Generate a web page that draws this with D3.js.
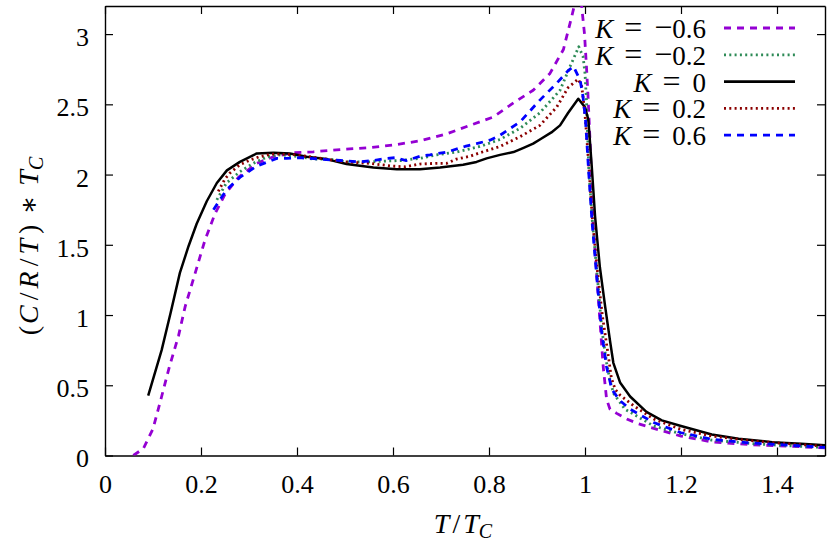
<!DOCTYPE html>
<html>
<head>
<meta charset="utf-8">
<title>C/R/T vs T/Tc</title>
<script src="https://cdnjs.cloudflare.com/ajax/libs/d3/7.8.5/d3.min.js"></script>
<style>
  body { margin: 0; background: #fff; }
  svg text { font-family: "Liberation Serif", "Times New Roman", serif; fill: #000; }
</style>
</head>
<body>
<div id="vis"></div>
<script>

// series: T/Tc and (C/R/T)*Tc
var kLabels = ["\u22120.6", "\u22120.2", "0", "0.2", "0.6"];

var tM06 = [0.059,0.080,0.100,0.118,0.134,0.153,0.167,0.188,0.208,0.229,0.250,0.278,0.316,0.351,0.392,0.434,0.490,0.545,0.600,0.656,0.712,0.760,0.809,0.851,0.892,0.927,0.955,0.972,0.986,0.993,0.999,1.003,1.006,1.011,1.017,1.028,1.038,1.045,1.052,1.066,1.087,1.108,1.136,1.200,1.264,1.341,1.426,1.500];
var cM06 = [0.00,0.05,0.19,0.42,0.63,0.85,1.06,1.30,1.53,1.72,1.86,1.98,2.08,2.127,2.155,2.162,2.178,2.19,2.21,2.24,2.29,2.35,2.41,2.51,2.60,2.72,2.89,3.12,3.32,3.20,3.00,2.77,2.58,2.20,1.65,1.11,0.63,0.40,0.33,0.30,0.26,0.23,0.20,0.138,0.097,0.078,0.066,0.054];

var tM02 = [0.233,0.253,0.281,0.309,0.337,0.365,0.400,0.434,0.469,0.503,0.545,0.587,0.615,0.656,0.690,0.732,0.781,0.823,0.865,0.906,0.948,0.969,0.987,0.996,1.000,1.003,1.008,1.015,1.025,1.035,1.045,1.053,1.060,1.083,1.101,1.143,1.200,1.264,1.354,1.430,1.500];
var cM02 = [1.82,1.94,2.02,2.08,2.125,2.14,2.13,2.11,2.11,2.09,2.09,2.096,2.10,2.115,2.14,2.16,2.20,2.25,2.33,2.44,2.60,2.77,2.91,2.84,2.72,2.53,2.03,1.68,1.30,0.90,0.66,0.52,0.44,0.33,0.295,0.21,0.155,0.11,0.083,0.068,0.057];

var tK0 = [0.090,0.118,0.137,0.156,0.174,0.191,0.212,0.233,0.254,0.281,0.316,0.351,0.385,0.420,0.461,0.503,0.559,0.608,0.656,0.698,0.746,0.774,0.795,0.823,0.851,0.872,0.892,0.906,0.930,0.948,0.965,0.986,1.000,1.007,1.014,1.021,1.031,1.042,1.052,1.059,1.073,1.094,1.128,1.160,1.200,1.264,1.320,1.390,1.450,1.500];
var cK0 = [0.426,0.75,1.02,1.30,1.49,1.65,1.81,1.94,2.03,2.09,2.15,2.155,2.15,2.127,2.11,2.075,2.05,2.037,2.037,2.05,2.07,2.09,2.115,2.14,2.16,2.19,2.22,2.25,2.30,2.35,2.44,2.54,2.48,2.39,2.06,1.70,1.34,1.06,0.82,0.66,0.52,0.42,0.31,0.25,0.21,0.15,0.12,0.095,0.083,0.073];

var tP02 = [0.236,0.250,0.260,0.281,0.300,0.320,0.345,0.370,0.400,0.430,0.460,0.500,0.550,0.600,0.625,0.656,0.690,0.712,0.732,0.760,0.781,0.823,0.865,0.906,0.941,0.965,0.986,0.993,0.996,1.001,1.008,1.015,1.025,1.036,1.049,1.055,1.063,1.073,1.101,1.143,1.200,1.264,1.334,1.397,1.500];
var cP02 = [1.88,1.97,2.01,2.07,2.10,2.125,2.145,2.145,2.14,2.125,2.11,2.09,2.08,2.06,2.055,2.075,2.08,2.08,2.11,2.13,2.155,2.20,2.27,2.35,2.48,2.62,2.68,2.63,2.55,2.39,2.06,1.70,1.34,1.00,0.70,0.55,0.47,0.43,0.355,0.26,0.186,0.138,0.11,0.09,0.066];

var tP06 = [0.226,0.253,0.281,0.316,0.358,0.378,0.406,0.448,0.490,0.531,0.559,0.587,0.604,0.628,0.656,0.677,0.712,0.750,0.774,0.802,0.823,0.865,0.906,0.941,0.965,0.976,0.990,0.996,1.001,1.008,1.015,1.025,1.035,1.045,1.056,1.073,1.094,1.143,1.200,1.264,1.341,1.426,1.500];
var cP06 = [1.75,1.89,1.98,2.06,2.115,2.115,2.12,2.11,2.10,2.09,2.10,2.115,2.12,2.10,2.13,2.14,2.16,2.20,2.22,2.245,2.28,2.376,2.53,2.65,2.74,2.77,2.67,2.55,2.39,2.00,1.65,1.25,0.87,0.63,0.47,0.39,0.33,0.235,0.162,0.115,0.09,0.073,0.058];

var xTicks = [0, 0.2, 0.4, 0.6, 0.8, 1, 1.2, 1.4];
var yTicks = [0, 0.5, 1, 1.5, 2, 2.5, 3];

var series = [
  {t: tM06, c: cM06, color: "#9400d3", dash: "7,6"},
  {t: tM02, c: cM02, color: "#2e8b57", dash: "2,3.3"},
  {t: tK0,  c: cK0,  color: "#000000", dash: null},
  {t: tP02, c: cP02, color: "#8b0000", dash: "2,3.3"},
  {t: tP06, c: cP06, color: "#0000ff", dash: "7,6"}
];

var W = 830, H = 544;
var pL = 105, pR = 825, pT = 6, pB = 455.5;

var svg = d3.select("#vis").append("svg")
  .attr("width", W)
  .attr("height", H);

var x = d3.scaleLinear().domain([0, 1.5]).range([pL, pR]);
var y = d3.scaleLinear().domain([0, 3.2]).range([pB, pT]);

svg.append("clipPath").attr("id", "clip")
  .append("rect")
  .attr("x", pL).attr("y", pT)
  .attr("width", pR - pL).attr("height", pB - pT);

function fmt(d) { return String(+d.toFixed(1)); }

// axes (ticks inward, mirrored)
var gx = svg.append("g").attr("transform", "translate(0," + pB + ")")
  .call(d3.axisBottom(x).tickValues(xTicks).tickSize(-8).tickSizeOuter(0).tickPadding(19).tickFormat(fmt));
var gx2 = svg.append("g").attr("transform", "translate(0," + pT + ")")
  .call(d3.axisTop(x).tickValues(xTicks).tickSize(-8).tickSizeOuter(0).tickFormat(""));
var gy = svg.append("g").attr("transform", "translate(" + pL + ",0)")
  .call(d3.axisLeft(y).tickValues(yTicks).tickSize(-8).tickSizeOuter(0).tickPadding(16).tickFormat(fmt));
var gy2 = svg.append("g").attr("transform", "translate(" + pR + ",0)")
  .call(d3.axisRight(y).tickValues(yTicks).tickSize(-8).tickSizeOuter(0).tickFormat(""));

[gx, gx2, gy, gy2].forEach(function(g) {
  g.attr("font-family", null).attr("font-size", null);
  g.selectAll("path.domain").attr("stroke", "#000").attr("stroke-width", 1.4);
  g.selectAll(".tick line").attr("stroke", "#000").attr("stroke-width", 1.2);
  g.selectAll(".tick text")
    .style("font-family", '"Liberation Serif", serif')
    .style("font-size", "26px").attr("fill", "#000");
});
gy.selectAll(".tick text").attr("dy", "0.44em");

// curves
var line = d3.line()
  .x(function(d) { return x(d[0]); })
  .y(function(d) { return y(d[1]); });

svg.append("g").attr("clip-path", "url(#clip)")
  .selectAll("path").data(series).enter().append("path")
  .attr("d", function(s) { return line(d3.zip(s.t, s.c)); })
  .attr("fill", "none")
  .attr("stroke", function(s) { return s.color; })
  .attr("stroke-width", function(s) { return s.dash ? 2.8 : 2.5; })
  .attr("stroke-dasharray", function(s) { return s.dash; })
  .attr("stroke-linejoin", "round");

// legend
var leg = svg.append("g");
series.forEach(function(s, i) {
  var by = 38 + i * 26.8;
  var t = leg.append("text")
    .attr("x", 706).attr("y", by)
    .attr("text-anchor", "end")
    .style("font-size", "27px");
  t.append("tspan").style("font-style", "italic").text("K");
  t.append("tspan").attr("dx", 11).style("font-size", "32px").text("=");
  var lab = kLabels[i];
  if (lab.charAt(0) === "\u2212") {
    t.append("tspan").attr("dx", 12).style("font-size", "32px").text("\u2212");
    t.append("tspan").text(lab.slice(1));
  } else {
    t.append("tspan").attr("dx", 12).text(lab);
  }
  leg.append("line")
    .attr("x1", 724).attr("x2", 795)
    .attr("y1", by - 10).attr("y2", by - 10)
    .attr("stroke", s.color)
    .attr("stroke-width", 2.8)
    .attr("stroke-dasharray", s.dash);
});

// axis titles
var xt = svg.append("text")
  .attr("x", (pL + pR) / 2 - 2).attr("y", 533)
  .attr("text-anchor", "middle")
  .style("font-size", "28px");
xt.append("tspan").style("font-style", "italic").text("T");
xt.append("tspan").attr("dx", 3).text("/");
xt.append("tspan").attr("dx", 3).style("font-style", "italic").text("T");
xt.append("tspan").style("font-style", "italic").style("font-size", "20px").attr("dy", 5).text("C");

var yt = svg.append("text")
  .attr("transform", "translate(38,246) rotate(-90)")
  .attr("text-anchor", "middle")
  .style("font-size", "28px");
yt.append("tspan").text("(");
yt.append("tspan").attr("dx", 2).style("font-style", "italic").text("C");
yt.append("tspan").attr("dx", 5).text("/");
yt.append("tspan").attr("dx", 4).style("font-style", "italic").text("R");
yt.append("tspan").attr("dx", 5).text("/");
yt.append("tspan").attr("dx", 4).style("font-style", "italic").text("T");
yt.append("tspan").attr("dx", 5).text(")");
yt.append("tspan").attr("dx", 10).style("font-family", '"DejaVu Serif", serif').style("font-size", "28px").text("\u2217");
yt.append("tspan").attr("dx", 10).style("font-style", "italic").text("T");
yt.append("tspan").style("font-style", "italic").style("font-size", "20px").attr("dy", 5).text("C");

</script>
</body>
</html>
